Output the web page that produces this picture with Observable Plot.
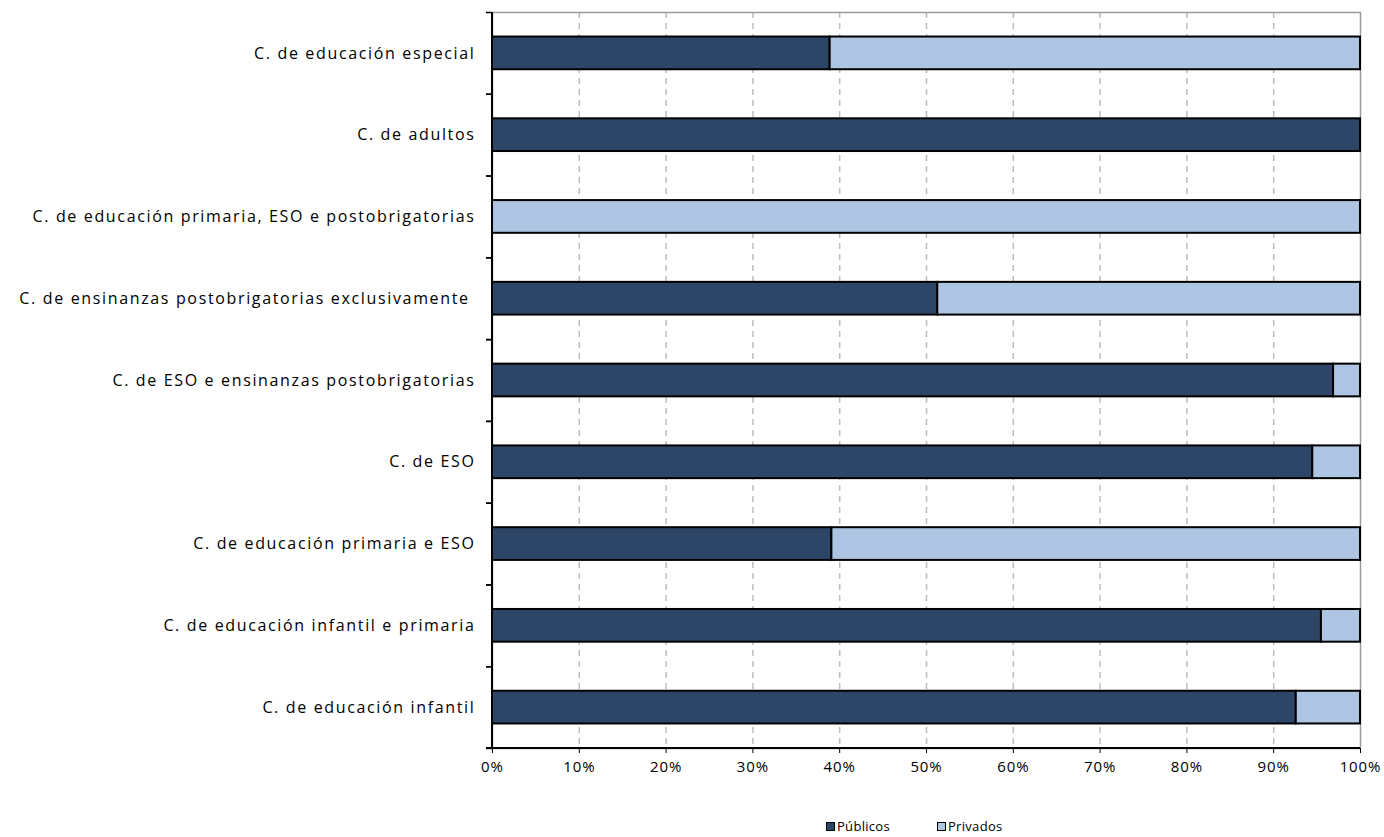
<!DOCTYPE html>
<html>
<head>
<meta charset="utf-8">
<script src="https://cdn.jsdelivr.net/npm/d3@7"></script>
<script src="https://cdn.jsdelivr.net/npm/@observablehq/plot@0.6"></script>
<style>
  body { margin: 0; background: #fff; font-family: "Open Sans", sans-serif; }
  #legend { position: relative; height: 37px; font-size: 13px; letter-spacing: 0.3px; color: #000; }
  .item { position: absolute; top: 17px; display: flex; align-items: center; }
  .sw { width: 7px; height: 7px; border: 1px solid #000; margin-right: 2px; }
</style>
</head>
<body>
<div id="chart"></div>
<div id="legend"></div>
<script>
const categories = [
  "C. de educación especial",
  "C. de adultos",
  "C. de educación primaria, ESO e postobrigatorias",
  "C. de ensinanzas postobrigatorias exclusivamente ",
  "C. de ESO e ensinanzas postobrigatorias",
  "C. de ESO",
  "C. de educación primaria e ESO",
  "C. de educación infantil e primaria",
  "C. de educación infantil"
];
const publicos = [38.9, 100, 0, 51.3, 96.9, 94.5, 39.1, 95.5, 92.6];
const privados = publicos.map(v => 100 - v);
const seriesNames = ["Públicos", "Privados"];
const seriesColors = ["#2d4567", "#adc5e3"];
const xTicks = [0, 10, 20, 30, 40, 50, 60, 70, 80, 90, 100];

const data = [];
categories.forEach((c, i) => {
  data.push({cat: c, serie: seriesNames[0], value: publicos[i]});
  data.push({cat: c, serie: seriesNames[1], value: privados[i]});
});

const height = 800, marginTop = 12, marginBottom = 52;
const step = (height - marginTop - marginBottom) / categories.length;

const chart = Plot.plot({
  width: 1384,
  height,
  marginLeft: 492,
  marginRight: 24,
  marginTop,
  marginBottom,
  style: {fontFamily: "Open Sans, sans-serif", fontSize: "13px", color: "#000"},
  x: {domain: [0, 100], ticks: xTicks, tickFormat: d => d + "%", label: null},
  y: {domain: categories, paddingInner: 0.6, paddingOuter: 0.3, round: false, label: null},
  color: {domain: seriesNames, range: seriesColors},
  marks: [
    Plot.gridX(xTicks.filter(d => d > 0 && d < 100), {stroke: "#bdbdbd", strokeOpacity: 1, strokeWidth: 1.5, strokeDasharray: "6,5"}),
    Plot.frame({stroke: "#9a9a9a", strokeWidth: 1.5}),
    Plot.barX(data, Plot.stackX({x: "value", y: "cat", fill: "serie", stroke: "#000", strokeWidth: 2, order: seriesNames})),
    Plot.axisX({ticks: xTicks, tickFormat: d => d + "%", tickSize: 5, tickPadding: 8, fontSize: 15, stroke: "#000", label: null}),
    Plot.axisY({tickSize: 0, tickPadding: 17, fontSize: 16, label: null}),
    Plot.axisY({tickSize: 6, tickFormat: () => "", dy: step / 2, strokeWidth: 1.5, label: null}),
    Plot.axisY({tickSize: 6, tickFormat: () => "", dy: -step / 2, strokeWidth: 1.5, label: null})
  ]
});
document.getElementById("chart").appendChild(chart);
chart.querySelectorAll("[aria-label='y-axis tick label'] text").forEach(t => t.setAttribute("letter-spacing", "1.65px"));
chart.querySelectorAll("[aria-label='x-axis tick label'] text").forEach(t => t.setAttribute("letter-spacing", "0.9px"));

// Solid black axis lines along left and bottom
const sx = chart.scale("x");
const ns = "http://www.w3.org/2000/svg";
const x0 = sx.apply(0), x1 = sx.apply(100);
const left = document.createElementNS(ns, "line");
left.setAttribute("x1", x0); left.setAttribute("x2", x0);
left.setAttribute("y1", marginTop); left.setAttribute("y2", height - marginBottom);
left.setAttribute("stroke", "#000"); left.setAttribute("stroke-width", 2);
chart.appendChild(left);
const bottom = document.createElementNS(ns, "line");
bottom.setAttribute("x1", x0 - 6); bottom.setAttribute("x2", x1);
bottom.setAttribute("y1", height - marginBottom); bottom.setAttribute("y2", height - marginBottom);
bottom.setAttribute("stroke", "#000"); bottom.setAttribute("stroke-width", 2);
chart.appendChild(bottom);

// Legend
const legend = document.getElementById("legend");
const pos = [826, 937];
seriesNames.forEach((n, i) => {
  const it = document.createElement("div");
  it.className = "item";
  it.style.left = pos[i] + "px";
  const sw = document.createElement("div");
  sw.className = "sw";
  sw.style.background = seriesColors[i];
  const t = document.createElement("span");
  t.textContent = n;
  it.appendChild(sw); it.appendChild(t);
  legend.appendChild(it);
});
</script>
</body>
</html>
